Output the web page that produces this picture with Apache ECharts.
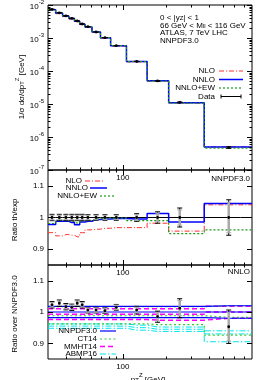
<!DOCTYPE html>
<html><head><meta charset="utf-8">
<script src="https://cdn.jsdelivr.net/npm/echarts@6/dist/echarts.min.js"></script>
<style>html,body{margin:0;padding:0;background:#fff}#c{width:266px;height:380px}</style>
</head><body><div id="c"></div><script>
// ---------- data ----------
const xRange = [30, 800];                 // pT axis range (outer bin edges)
const ptCenters = [32,36,40,44,48,52,57,65,75,90,125,175,250,550];
const xMinorTicks = [40,50,60,70,80,90,200,300,400,500,600,700];
const xMajorTicks = [100];
const xTickLabels = ['100'];

const dataXsec = [7.4e-3,5.8e-3,4.7e-3,3.95e-3,3.3e-3,2.66e-3,2.2e-3,1.52e-3,1.02e-3,5.85e-4,1.95e-4,5.0e-5,1.12e-5,4.8e-7];
const nloXsec  = [7.04e-3,5.46e-3,4.45e-3,3.73e-3,3.10e-3,2.53e-3,2.11e-3,1.46e-3,9.85e-4,5.66e-4,1.89e-4,4.91e-5,1.07e-5,4.99e-7];
const nnloXsec = [7.24e-3,5.73e-3,4.64e-3,3.89e-3,3.22e-3,2.62e-3,2.17e-3,1.51e-3,1.015e-3,5.83e-4,1.94e-4,5.07e-5,1.10e-5,5.01e-7];
const ewXsec   = [7.26e-3,5.75e-3,4.65e-3,3.90e-3,3.24e-3,2.63e-3,2.18e-3,1.51e-3,1.02e-3,5.84e-4,1.93e-4,4.95e-5,1.06e-5,4.61e-7];

// relative experimental errors: total and uncorrelated part
const errTotal = [0.010,0.010,0.010,0.010,0.010,0.010,0.009,0.009,0.009,0.009,0.012,0.018,0.030,0.056];
const errUncor = [0.007,0.007,0.007,0.007,0.007,0.007,0.007,0.007,0.007,0.007,0.009,0.014,0.024,0.048];

// Ratio th/exp
const nloRatio  = [0.952,0.942,0.946,0.944,0.939,0.952,0.961,0.963,0.966,0.968,0.968,0.982,0.957,1.040];
const nnloRatio = [0.978,0.988,0.988,0.984,0.977,0.986,0.988,0.994,0.995,0.997,0.995,1.013,0.986,1.044];
const ewRatio   = [0.981,0.992,0.990,0.988,0.982,0.990,0.990,0.996,0.998,0.998,0.990,0.990,0.949,0.961];
const dataRatio = [1,1,1,1,1,1,1,1,1,1,1,1,1,1];

// Ratio over NNPDF3.0 (NNLO)
const dataOverNN = [1.023,1.028,1.017,1.015,1.028,1.023,1.006,1.006,1.004,1.015,1.006,0.985,1.012,0.953];
const nnpdfC  = [1,1,1,1,1,1,1,1,1,1,1,1,1,1];
const nnpdfUp = [1.018,1.018,1.018,1.018,1.018,1.018,1.018,1.018,1.018,1.018,1.018,1.018,1.018,1.020];
const nnpdfLo = [0.982,0.982,0.982,0.982,0.982,0.982,0.982,0.982,0.982,0.982,0.982,0.982,0.982,0.980];
const ct14C   = [0.988,0.988,0.988,0.988,0.988,0.988,0.988,0.988,0.988,0.988,0.988,0.988,0.988,0.983];
const ct14Up  = [1.017,1.017,1.017,1.017,1.017,1.017,1.017,1.017,1.017,1.017,1.017,1.017,1.017,1.020];
const ct14Lo  = [0.962,0.962,0.962,0.962,0.962,0.962,0.962,0.962,0.962,0.962,0.962,0.960,0.960,0.926];
const mmhtC   = [0.993,0.993,0.993,0.993,0.993,0.993,0.993,0.993,0.993,0.993,0.993,0.993,0.993,1.000];
const mmhtUp  = [1.010,1.010,1.010,1.010,1.010,1.010,1.010,1.010,1.010,1.010,1.010,1.010,1.010,1.018];
const mmhtLo  = [0.976,0.976,0.976,0.976,0.976,0.976,0.976,0.976,0.976,0.976,0.976,0.974,0.974,0.980];
const abmC    = [0.955,0.955,0.955,0.955,0.955,0.955,0.955,0.955,0.955,0.955,0.950,0.945,0.945,0.930];
const abmUp   = [0.962,0.962,0.962,0.962,0.962,0.962,0.962,0.962,0.962,0.962,0.958,0.952,0.952,0.940];
const abmLo   = [0.948,0.948,0.948,0.948,0.948,0.948,0.948,0.948,0.948,0.948,0.942,0.938,0.938,0.905];

const ratioRange = [0.85, 1.15];
const ratioLabels = [0.9, 1.0, 1.1];
const logRange = [1e-7, 1e-2];

// ---------- helpers ----------
const FONT = 'Liberation Sans, Arial, Helvetica, sans-serif';
const C = {nlo:'#ff3030', nnlo:'#0000ff', ew:'#1a9a1a', ct:'#33cc33', mmht:'#ff00ff', abm:'#00e5ee'};
const DASH = {nlo:[5,2,1,2], ew:[2,2], ct:[2,2.5], mmht:[5,3], abm:[6,2,1.5,2]};

function stepData(vals){
  const d = [[xRange[0], vals[0]]];
  ptCenters.forEach((x,i)=>d.push([x, vals[i]]));
  d.push([xRange[1], vals[vals.length-1]]);
  return d;
}
function stepSeries(name, vals, g, color, width, dash, z){
  return {type:'line', name, xAxisIndex:g, yAxisIndex:g, data:stepData(vals), step:'middle',
    showSymbol:false, symbol:'none', silent:true, animation:false, z:z||2,
    lineStyle:{color, width, type:dash||'solid'}};
}
function errSeries(vals, g, log){
  const d = ptCenters.map((x,i)=>{
    const y=vals[i], e=errTotal[i], u=errUncor[i];
    return [x, y, y*(1-e), y*(1+e), y*(1-u), y*(1+u)];
  });
  return {type:'custom', xAxisIndex:g, yAxisIndex:g, data:d, z:10, silent:true, animation:false,
    renderItem:function(params, api){
      const p = api.coord([api.value(0), api.value(1)]);
      const lo = api.coord([api.value(0), api.value(2)])[1];
      const hi = api.coord([api.value(0), api.value(3)])[1];
      const lo2 = api.coord([api.value(0), api.value(4)])[1];
      const hi2 = api.coord([api.value(0), api.value(5)])[1];
      const cw = 2.5, x = p[0];
      const ch = [
        {type:'line', shape:{x1:x,y1:lo,x2:x,y2:hi}, style:{stroke:'#000',lineWidth:1}},
        {type:'line', shape:{x1:x-cw,y1:lo,x2:x+cw,y2:lo}, style:{stroke:'#000',lineWidth:1}},
        {type:'line', shape:{x1:x-cw,y1:hi,x2:x+cw,y2:hi}, style:{stroke:'#000',lineWidth:1}}
      ];
      if(!log){
        ch.push({type:'line', shape:{x1:x,y1:lo2,x2:x,y2:hi2}, style:{stroke:'#aaaaaa',lineWidth:2.5}});
        ch.push({type:'line', shape:{x1:x-cw,y1:lo2,x2:x+cw,y2:lo2}, style:{stroke:'#aaaaaa',lineWidth:1}});
        ch.push({type:'line', shape:{x1:x-cw,y1:hi2,x2:x+cw,y2:hi2}, style:{stroke:'#aaaaaa',lineWidth:1}});
      }
      ch.push({type:'circle', shape:{cx:x, cy:p[1], r:1.4}, style:{fill:'#000'}});
      return {type:'group', children:ch};
    }};
}
// tick marks (inward, mirrored) drawn through the axes' scales
function xTickSeries(g, yBase){
  const d = xMinorTicks.map(v=>[v, yBase, 0]).concat(xMajorTicks.map(v=>[v, yBase, 1]));
  return {type:'custom', xAxisIndex:g, yAxisIndex:g, data:d, z:20, silent:true, animation:false, clip:false,
    renderItem:function(params, api){
      const cs = params.coordSys; const x = Math.round(api.coord([api.value(0), api.value(1)])[0])+0.5;
      const L = api.value(2) ? 5 : 2.5;
      return {type:'group', children:[
        {type:'line', shape:{x1:x,y1:cs.y+cs.height,x2:x,y2:cs.y+cs.height-L}, style:{stroke:'#000',lineWidth:1}},
        {type:'line', shape:{x1:x,y1:cs.y,x2:x,y2:cs.y+L}, style:{stroke:'#000',lineWidth:1}}
      ]};
    }};
}
function yTickSeries(g, vals){
  const d = vals.map(v=>[xRange[0], v[0], v[1]]);
  return {type:'custom', xAxisIndex:g, yAxisIndex:g, data:d, z:20, silent:true, animation:false, clip:false,
    renderItem:function(params, api){
      const cs = params.coordSys; const y = Math.round(api.coord([api.value(0), api.value(1)])[1])+0.5;
      const L = api.value(2) ? 5 : 2.5;
      return {type:'group', children:[
        {type:'line', shape:{x1:cs.x,y1:y,x2:cs.x+L,y2:y}, style:{stroke:'#000',lineWidth:1}},
        {type:'line', shape:{x1:cs.x+cs.width,y1:y,x2:cs.x+cs.width-L,y2:y}, style:{stroke:'#000',lineWidth:1}}
      ]};
    }};
}
const logTicks = [];
for(let e=-7;e<=-2;e++){ logTicks.push([Math.pow(10,e),1]); if(e<-2) for(let k=2;k<=9;k++) logTicks.push([k*Math.pow(10,e),0]); }
const ratioTicks = ratioLabels.map(v=>[v,1]);

const grids = [
  {left:48, top:5, width:204, height:165},
  {left:48, top:170, width:204, height:95},
  {left:48, top:265, width:204, height:94}
];
const xAxes = grids.map((g,i)=>({type:'log', logBase:10, gridIndex:i, min:xRange[0], max:xRange[1],
  axisLine:{show:false}, axisTick:{show:false}, splitLine:{show:false},
  axisLabel:{color:'#000', fontSize:8, fontFamily:FONT, margin:4, showMinLabel:false, showMaxLabel:false,
    formatter:v=>{const k=xMajorTicks.findIndex(t=>Math.abs(t-v)<1e-6*t); return k>=0?xTickLabels[k]:'';}}}));
const yAxes = [
  {type:'log', logBase:10, gridIndex:0, min:logRange[0], max:logRange[1],
   axisLine:{show:false}, axisTick:{show:false}, splitLine:{show:false},
   axisLabel:{color:'#000', fontSize:8, fontFamily:FONT, margin:4,
     formatter:v=>{const e=Math.round(Math.log10(v)); return '{b|10}{s|'+e+'}';},
     rich:{b:{fontSize:8, fontFamily:FONT, color:'#000', lineHeight:11, verticalAlign:'bottom'},
           s:{fontSize:6, fontFamily:FONT, color:'#000', lineHeight:11, verticalAlign:'top'}}}},
  ...[1,2].map(i=>({type:'value', gridIndex:i, min:ratioRange[0], max:ratioRange[1], splitNumber:3,
   axisLine:{show:false}, axisTick:{show:false}, splitLine:{show:false},
   axisLabel:{color:'#000', fontSize:8, fontFamily:FONT, margin:4,
     formatter:v=>{const k=ratioLabels.findIndex(t=>Math.abs(t-v)<1e-6); return k>=0?String(ratioLabels[k]):'';}}}))
];

const series = [
  // top panel
  stepSeries('NLO', nloXsec, 0, C.nlo, 1, DASH.nlo, 2),
  stepSeries('NNLO', nnloXsec, 0, C.nnlo, 1.5, 'solid', 3),
  stepSeries('NNLO+EW', ewXsec, 0, C.ew, 1.2, DASH.ew, 4),
  errSeries(dataXsec, 0, true),
  xTickSeries(0, 1e-4), yTickSeries(0, logTicks),
  // ratio th/exp
  stepSeries('one', dataRatio, 1, '#000', 1, 'solid', 1),
  stepSeries('NLO', nloRatio, 1, C.nlo, 1, DASH.nlo, 2),
  stepSeries('NNLO', nnloRatio, 1, C.nnlo, 1.5, 'solid', 3),
  stepSeries('NNLO+EW', ewRatio, 1, C.ew, 1.2, DASH.ew, 4),
  errSeries(dataRatio, 1, false),
  xTickSeries(1, 1), yTickSeries(1, ratioTicks),
  // ratio over NNPDF3.0
  stepSeries('ABMP16', abmC, 2, C.abm, 1, DASH.abm, 2),
  stepSeries('ABMP16+', abmUp, 2, C.abm, 1, DASH.abm, 2),
  stepSeries('ABMP16-', abmLo, 2, C.abm, 1, DASH.abm, 2),
  stepSeries('MMHT14', mmhtC, 2, C.mmht, 1.5, DASH.mmht, 3),
  stepSeries('MMHT14+', mmhtUp, 2, C.mmht, 1.5, DASH.mmht, 3),
  stepSeries('MMHT14-', mmhtLo, 2, C.mmht, 1.5, DASH.mmht, 3),
  stepSeries('CT14', ct14C, 2, C.ct, 1.2, DASH.ct, 4),
  stepSeries('CT14+', ct14Up, 2, C.ct, 1.2, DASH.ct, 4),
  stepSeries('CT14-', ct14Lo, 2, C.ct, 1.2, DASH.ct, 4),
  stepSeries('NNPDF3.0', nnpdfC, 2, C.nnlo, 1.2, 'solid', 5),
  stepSeries('NNPDF3.0+', nnpdfUp, 2, C.nnlo, 1.2, 'solid', 5),
  stepSeries('NNPDF3.0-', nnpdfLo, 2, C.nnlo, 1.2, 'solid', 5),
  errSeries(dataOverNN, 2, false),
  xTickSeries(2, 1), yTickSeries(2, ratioTicks)
];

// ---------- text / legends ----------
const T = (x,y,text,align,rot)=>({type:'text', x, y, z:50, silent:true, rotation:rot||0,
  style:{text, fill:'#000', font:'8px '+FONT, textAlign:align||'left', textVerticalAlign:'middle'}});
const richT = (x,y,text,align,rot)=>({type:'text', x, y, z:50, silent:true, rotation:rot||0,
  style:{text, fill:'#000', fontSize:8, fontFamily:FONT, align:align||'left', verticalAlign:'middle',
    rich:{n:{fontSize:8, fontFamily:FONT, lineHeight:11, verticalAlign:'bottom'},
          sub:{fontSize:6, fontFamily:FONT, lineHeight:11, verticalAlign:'bottom'},
          sup:{fontSize:6, fontFamily:FONT, lineHeight:11, verticalAlign:'top'}}}});
const sample = (x1,x2,y,color,dash,w)=>({type:'line', z:50, silent:true, shape:{x1,y1:y,x2,y2:y},
  style:{stroke:color, lineWidth:w||1.2, lineDash:dash||null}});
const R90 = Math.PI/2;

const graphics = [
  // top panel annotation
  richT(160,16,'{n|0 < |y}{sub|Z}{n|| < 1}'),
  richT(160,24,'{n|66 GeV < M}{sub|ll}{n| < 116 GeV}'),
  T(160,32.5,'ATLAS, 7 TeV LHC'),
  T(160,41,'NNPDF3.0'),
  // top legend
  T(215,71,'NLO','right'), sample(219,243,71,C.nlo,DASH.nlo),
  T(215,79.5,'NNLO','right'), sample(219,243,79.5,C.nnlo,null,1.5),
  T(215,88,'NNLO+EW','right'), sample(219,243,88,C.ew,DASH.ew),
  T(215,96.5,'Data','right'), sample(221,241,96.5,'#000',null,1),
  {type:'line', z:50, silent:true, shape:{x1:221,y1:94.5,x2:221,y2:98.5}, style:{stroke:'#000',lineWidth:1}},
  {type:'line', z:50, silent:true, shape:{x1:241,y1:94.5,x2:241,y2:98.5}, style:{stroke:'#000',lineWidth:1}},
  // axis titles
  richT(20,87,'{n|1/σ dσ/dp}{sub|T}{sup|Z}{n| [GeV]}','center',R90),
  T(15,220,'Ratio th/exp','center',R90),
  T(15,314,'Ratio over NNPDF3.0','center',R90),
  richT(148,378,'{n|p}{sub|T}{sup|Z}{n| [GeV]}','center'),
  // panel 2 legend
  T(82,181,'NLO','right'), sample(85,104,181,C.nlo,DASH.nlo),
  T(88,188,'NNLO','right'), sample(90,107,188,C.nnlo,null,1.5),
  T(97,196,'NNLO+EW','right'), sample(100,116,196,C.ew,DASH.ew),
  T(250,179,'NNPDF3.0','right'),
  // panel 3 legend
  T(250,272,'NNLO','right'),
  T(97,331,'NNPDF3.0','right'), sample(100,116,331,C.nnlo,null,1.2),
  T(97,339,'CT14','right'), sample(100,116,339,C.ct,DASH.ct),
  T(97,346.5,'MMHT14','right'), sample(100,116,346.5,C.mmht,DASH.mmht,1.5),
  T(97,354,'ABMP16','right'), sample(100,116,354,C.abm,DASH.abm)
];

const chart = echarts.init(document.getElementById('c'), null, {renderer:'canvas'});
chart.setOption({
  animation:false,
  grid: grids.map(g=>Object.assign({show:true, borderColor:'#000', borderWidth:1, backgroundColor:'transparent', containLabel:false, outerBoundsMode:'none'}, g)),
  xAxis: xAxes, yAxis: yAxes, series, graphic: graphics
});
</script></body></html>
